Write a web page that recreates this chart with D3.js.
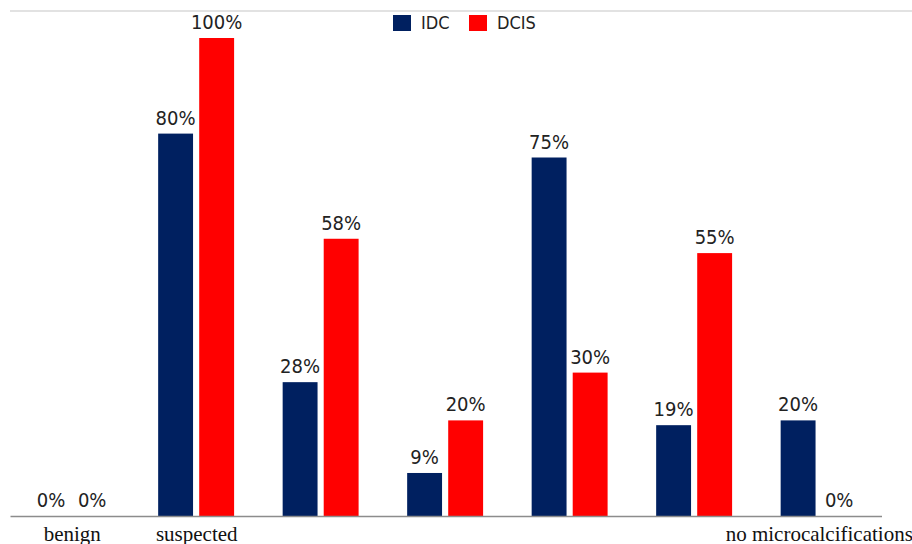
<!DOCTYPE html>
<html>
<head>
<meta charset="utf-8">
<script src="https://cdn.jsdelivr.net/npm/d3@7"></script>
<style>
  body { margin: 0; background: #fff; }
  svg { display: block; }
</style>
</head>
<body>
<svg id="chart" width="912" height="544"></svg>
<script>
// Chart data
const categories = ['benign', 'suspected', 'c3', 'c4', 'c5', 'c6', 'no microcalcifications'];
const categoryLabels = ['benign', 'suspected', '', '', '', '', 'no microcalcifications'];
const seriesNames = ['IDC', 'DCIS'];
const idcValues = [0, 0.80, 0.28, 0.09, 0.75, 0.19, 0.20];
const dcisValues = [0, 1.00, 0.58, 0.20, 0.30, 0.55, 0];
const seriesColors = ['#002060', '#ff0000'];

const width = 912, height = 544;
const baseY = 516, topY = 38;
const labelFont = '"Liberation Sans Narrow", "DejaVu Sans Condensed", sans-serif';

const svg = d3.select('#chart');

// Top border line
svg.append('line')
  .attr('x1', 10).attr('x2', width)
  .attr('y1', 11).attr('y2', 11)
  .attr('stroke', '#d9d9d9')
  .attr('stroke-width', 1.5);

// Scales
const x = d3.scaleBand()
  .domain(categories)
  .range([10, 881.5]);

const bw = x.bandwidth();
const xSub = d3.scaleBand()
  .domain(seriesNames)
  .range([bw * 0.19, bw * 0.80])
  .paddingInner(0.15);

const y = d3.scaleLinear()
  .domain([0, 1])
  .range([baseY, topY]);

const rows = categories.map((c, i) => ({
  cat: c,
  values: [
    { key: 'IDC', value: idcValues[i] },
    { key: 'DCIS', value: dcisValues[i] }
  ]
}));

const color = d3.scaleOrdinal().domain(seriesNames).range(seriesColors);

// Bars
const groups = svg.selectAll('.group')
  .data(rows)
  .enter()
  .append('g')
  .attr('class', 'group')
  .attr('transform', d => `translate(${x(d.cat)},0)`);

groups.selectAll('rect')
  .data(d => d.values)
  .enter()
  .append('rect')
  .attr('x', d => xSub(d.key))
  .attr('y', d => y(d.value))
  .attr('width', xSub.bandwidth())
  .attr('height', d => baseY - y(d.value))
  .attr('fill', d => color(d.key));

// Value labels
groups.selectAll('text.val')
  .data(d => d.values)
  .enter()
  .append('text')
  .attr('class', 'val')
  .attr('x', d => xSub(d.key) + xSub.bandwidth() / 2)
  .attr('y', d => y(d.value) - 9)
  .attr('text-anchor', 'middle')
  .style('font-family', labelFont)
  .style('font-size', '20px')
  .attr('fill', '#222')
  .text(d => Math.round(d.value * 100) + '%');

// X axis
const xAxis = d3.axisBottom(x)
  .tickSize(0)
  .tickSizeOuter(0)
  .tickFormat((d, i) => categoryLabels[i]);

const gx = svg.append('g')
  .attr('transform', `translate(0,${baseY})`)
  .call(xAxis);

gx.select('.domain')
  .attr('stroke', '#8c8c8c')
  .attr('stroke-width', 1.5);

gx.selectAll('text')
  .attr('y', 25)
  .attr('dy', 0)
  .style('font-family', '"Liberation Serif", "Times New Roman", serif')
  .style('font-size', '21px')
  .attr('fill', '#111');

// Legend
const legend = svg.append('g')
  .attr('transform', 'translate(393,15)');

const legendX = [0, 76];
seriesNames.forEach((name, i) => {
  const g = legend.append('g').attr('transform', `translate(${legendX[i]},0)`);
  g.append('rect')
    .attr('width', 18)
    .attr('height', 16)
    .attr('fill', seriesColors[i]);
  g.append('text')
    .attr('x', 28)
    .attr('y', 13.5)
    .style('font-family', labelFont)
    .style('font-size', '18px')
    .attr('fill', '#222')
    .text(name);
});
</script>
</body>
</html>
